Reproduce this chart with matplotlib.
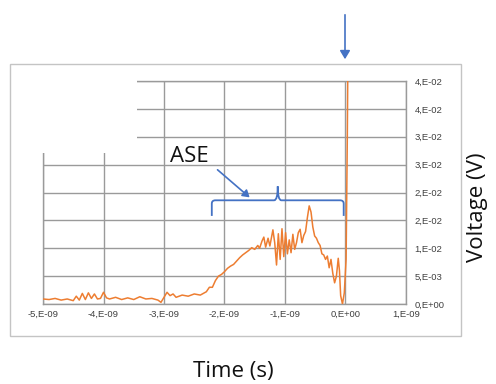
import numpy as np
import matplotlib
matplotlib.use("Agg")
import matplotlib.pyplot as plt
from matplotlib.path import Path
from matplotlib.patches import PathPatch, Rectangle, FancyArrowPatch

# Oscilloscope trace: time in ns, voltage in mV
time_ns = [
    -5.00, -4.90, -4.80, -4.70, -4.60, -4.50, -4.45, -4.40, -4.35, -4.30,
    -4.25, -4.20, -4.15, -4.10, -4.05, -4.00, -3.95, -3.90, -3.80, -3.70,
    -3.60, -3.50, -3.40, -3.30, -3.20, -3.10, -3.05, -3.00, -2.95, -2.90,
    -2.85, -2.80, -2.70, -2.60, -2.50, -2.40, -2.30, -2.25, -2.20, -2.15,
    -2.10, -2.05, -2.00, -1.95, -1.90, -1.85, -1.80, -1.75, -1.70, -1.65,
    -1.60, -1.55, -1.50, -1.45, -1.42, -1.38, -1.35, -1.32, -1.28, -1.25,
    -1.20, -1.17, -1.14, -1.11, -1.08, -1.05, -1.02, -0.99, -0.96, -0.93,
    -0.90, -0.87, -0.84, -0.81, -0.78, -0.75, -0.72, -0.69, -0.66, -0.63,
    -0.60, -0.57, -0.54, -0.51, -0.48, -0.45, -0.42, -0.39, -0.36, -0.33,
    -0.30, -0.27, -0.24, -0.21, -0.18, -0.15, -0.12, -0.10, -0.08, -0.05,
    -0.02, 0.01, 0.03, 0.05,
]
voltage_mv = [
    0.9, 0.8, 1.0, 0.7, 0.9, 0.6, 1.4, 0.7, 1.9, 0.8,
    2.0, 1.0, 1.8, 0.9, 1.0, 2.1, 1.1, 0.9, 1.2, 0.8,
    1.1, 0.8, 1.3, 0.9, 1.0, 0.7, 0.3, 1.2, 2.1, 1.5,
    1.8, 1.2, 1.6, 1.4, 1.8, 1.6, 2.2, 3.0, 3.0, 4.2,
    5.0, 5.3, 5.8, 6.4, 6.8, 7.1, 7.7, 8.3, 8.8, 9.2,
    9.6, 10.1, 9.8, 10.5, 10.0, 11.3, 12.0, 10.2, 11.8, 10.4,
    13.3, 11.0, 7.0, 12.6, 8.0, 13.5, 8.5, 12.8, 9.0, 11.5,
    9.2, 12.5, 9.8, 11.0, 12.8, 13.4, 11.0, 12.3, 13.0, 15.5,
    17.6, 16.5, 13.8, 12.2, 11.8, 11.0, 10.5, 9.0, 8.8, 8.0,
    8.6, 6.5, 8.0, 5.5, 3.8, 5.0, 8.2, 6.0, 1.5, 0.0,
    2.0, 8.0, 30.0, 60.0,
]

x_ticks_ns = [-5, -4, -3, -2, -1, 0, 1]
x_tick_labels = ["-5,E-09", "-4,E-09", "-3,E-09", "-2,E-09", "-1,E-09", "0,E+00", "1,E-09"]
y_ticks_mv = [0, 5, 10, 15, 20, 25, 30, 35, 40]
y_tick_labels = ["0,E+00", "5,E-03", "1,E-02", "2,E-02", "2,E-02",
                 "3,E-02", "3,E-02", "4,E-02", "4,E-02"]

t = np.array(time_ns) * 1e-9
v = np.array(voltage_mv) * 1e-3

W, H = 496, 384
fig = plt.figure(figsize=(W / 100, H / 100), dpi=100)
plt.rcParams["font.family"] = ["Liberation Sans", "DejaVu Sans"]
label_font = ["Open Sans", "DejaVu Sans"]

# chart-area border
fig.add_artist(Rectangle((10 / W, 1 - 336 / H), 451 / W, 272 / H,
                         transform=fig.transFigure, fill=False,
                         edgecolor="#c4c4c4", lw=1.0))

ax = fig.add_axes([43 / W, 1 - 304 / H, 363 / W, 223 / H])
ax.set_xlim(-5e-9, 1e-9)
ax.set_ylim(0, 0.04)
ax.set_axisbelow(True)
ax.grid(True, color="#9a9a9a", lw=1.0)
for s in ax.spines.values():
    s.set_color("#9a9a9a")
    s.set_linewidth(1.0)

ax.set_xticks(np.array(x_ticks_ns) * 1e-9)
ax.set_xticklabels(x_tick_labels, fontsize=6.8, color="#404040")
ax.set_yticks(np.array(y_ticks_mv) * 1e-3)
ax.set_yticklabels(y_tick_labels, fontsize=6.8, color="#404040")
ax.yaxis.tick_right()
ax.tick_params(axis="both", length=0)
ax.tick_params(axis="x", pad=4)
ax.tick_params(axis="y", pad=6)

ax.plot(t, v, color="#ED7D31", lw=1.1, zorder=3)

# blank patch over the upper-left corner of the grid
ax.add_patch(Rectangle((-5.15e-9, 0.0271), 1.70e-9, 0.0135, facecolor="white",
                       edgecolor="none", zorder=2.7, clip_on=False))

# curly brace over the ASE region (data coordinates)
xl, xr, xm = -2.21e-9, -0.03e-9, -1.12e-9
yb, yl, yt, ytip = 0.0158, 0.0180, 0.0186, 0.0211
dx = 0.06e-9
verts = [
    (xl, yb), (xl, yl), (xl, yt), (xl + dx, yt),
    (xm - dx, yt), (xm, yt), (xm, ytip),
    (xm, yt), (xm + dx, yt),
    (xr - dx, yt), (xr, yt), (xr, yl), (xr, yb),
]
codes = [Path.MOVETO, Path.LINETO, Path.CURVE3, Path.CURVE3,
         Path.LINETO, Path.CURVE3, Path.CURVE3,
         Path.CURVE3, Path.CURVE3,
         Path.LINETO, Path.CURVE3, Path.CURVE3, Path.LINETO]
ax.add_patch(PathPatch(Path(verts, codes), fill=False, edgecolor="#4472C4",
                       lw=1.3, zorder=4, clip_on=False))

ax.text(-2.58e-9, 0.0265, "ASE", fontsize=16, ha="center", va="center",
        family=label_font, color="#111111", zorder=5)
ax.add_patch(FancyArrowPatch((-2.15e-9, 0.0244), (-1.55e-9, 0.0188),
                             arrowstyle="-|>,head_length=4,head_width=2.5",
                             color="#4472C4", lw=1.2, zorder=5, clip_on=False))

# arrow pointing down to the main pulse
fig.add_artist(FancyArrowPatch((345 / W, 1 - 12 / H), (345 / W, 1 - 62 / H),
                               transform=fig.transFigure,
                               arrowstyle="-|>,head_length=5,head_width=3",
                               color="#4472C4", lw=1.2))

fig.text(233 / W, 1 - 371 / H, "Time (s)", fontsize=16, ha="center", va="center",
         family=label_font, color="#111111")
fig.text(478 / W, 1 - 207 / H, "Voltage (V)", fontsize=16, ha="center", va="center",
         rotation=90, family=label_font, color="#111111")

fig.savefig("out.png", dpi=100)
